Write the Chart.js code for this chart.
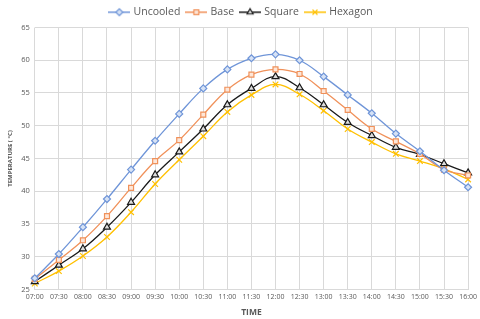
<!DOCTYPE html>
<html>
<head>
<meta charset="utf-8">
<script src="https://cdn.jsdelivr.net/npm/chart.js@4"></script>
<style>
  html, body { margin: 0; padding: 0; background: #fff; }
  #wrap { width: 480px; height: 319px; }
</style>
</head>
<body>
<div id="wrap"><canvas id="canvas-myChart"></canvas></div>
<script>
const timeLabels = ["07:00", "07:30", "08:00", "08:30", "09:00", "09:30", "10:00", "10:30", "11:00", "11:30",
  "12:00", "12:30", "13:00", "13:30", "14:00", "14:30", "15:00", "15:30", "16:00"];
const uncooled = [26.7, 30.4, 34.5, 38.8, 43.3, 47.7, 51.8, 55.7, 58.6, 60.3, 60.9, 60.0, 57.5, 54.7, 51.9, 48.8, 46.1, 43.2, 40.6];
const base = [26.6, 29.5, 32.5, 36.2, 40.5, 44.6, 47.8, 51.7, 55.5, 57.8, 58.6, 57.9, 55.3, 52.4, 49.5, 47.6, 45.7, 43.3, 42.4];
const square = [26.2, 28.7, 31.2, 34.5, 38.3, 42.5, 46.0, 49.5, 53.2, 55.7, 57.5, 55.8, 53.2, 50.5, 48.5, 46.7, 45.6, 44.2, 42.8];
const hexagon = [25.9, 27.8, 30.1, 33.0, 36.8, 41.1, 44.8, 48.4, 52.1, 54.7, 56.3, 54.8, 52.3, 49.5, 47.5, 45.7, 44.6, 43.4, 41.8];

const textColor = "#595959";
const fontFamily = "'Open Sans', 'Liberation Sans', sans-serif";

function makeSeries(label, data, color, fill, style, radius) {
  return {
    label: label,
    data: data,
    borderColor: color,
    backgroundColor: fill,
    pointBorderColor: color,
    pointBackgroundColor: fill,
    pointStyle: style,
    pointRadius: radius,
    pointBorderWidth: 1.2,
    borderWidth: 1.3,
    tension: 0.4,
  };
}

// legend icon: short line with the marker in the middle
function legendIcon(ds) {
  const c = document.createElement("canvas");
  c.width = 22;
  c.height = 10;
  const g = c.getContext("2d");
  g.strokeStyle = ds.borderColor;
  g.lineWidth = 1.5;
  g.beginPath();
  g.moveTo(0, 5);
  g.lineTo(22, 5);
  g.stroke();
  g.fillStyle = ds.pointBackgroundColor;
  g.lineWidth = 1.2;
  Chart.helpers.drawPoint(g, { pointStyle: ds.pointStyle, radius: 3.5, rotation: 0, borderWidth: 1.2 }, 11, 5);
  return c;
}

const ctx = document.getElementById("canvas-myChart").getContext("2d");

const myChart = new Chart(ctx, {
  type: "line",
  data: {
    labels: timeLabels,
    datasets: [
      makeSeries("Uncooled", uncooled, "#6F95D8", "#D6E2F5", "rectRot", 3.5),
      makeSeries("Base", base, "#F0915A", "#FDE6D8", "rect", 3.5),
      makeSeries("Square", square, "#1A1A1A", "#DDDDDD", "triangle", 4),
      makeSeries("Hexagon", hexagon, "#FFC000", "#FFC000", "crossRot", 4),
    ],
  },
  options: {
    responsive: true,
    maintainAspectRatio: false,
    animation: false,
    layout: { padding: { left: 3, right: 0, top: 0, bottom: -3 } },
    plugins: {
      legend: {
        position: "top",
        labels: {
          color: textColor,
          usePointStyle: true,
          pointStyleWidth: 18,
          boxHeight: 8,
          padding: 7,
          font: { family: fontFamily, size: 10.5 },
          generateLabels: function (chart) {
            return chart.data.datasets.map(function (ds, i) {
              return {
                text: ds.label,
                fontColor: textColor,
                pointStyle: legendIcon(ds),
                strokeStyle: ds.borderColor,
                fillStyle: ds.pointBackgroundColor,
                lineWidth: 0,
                hidden: false,
                datasetIndex: i,
              };
            });
          },
        },
      },
      tooltip: { enabled: false },
    },
    scales: {
      y: {
        min: 25,
        max: 65,
        ticks: { stepSize: 5, color: textColor, font: { family: fontFamily, size: 7.5 }, padding: 5 },
        grid: { color: "#D9D9D9", drawTicks: false },
        border: { display: false },
        title: {
          display: true,
          text: "TEMPERATURE ( °C)",
          color: textColor,
          font: { family: fontFamily, size: 6, weight: "bold" },
          padding: { bottom: 2 },
        },
      },
      x: {
        offset: false,
        ticks: { color: textColor, font: { family: fontFamily, size: 7 }, maxRotation: 0, autoSkip: false, padding: 3 },
        grid: { color: "#D9D9D9", drawTicks: false },
        border: { color: "#D9D9D9" },
        title: {
          display: true,
          text: "TIME",
          color: textColor,
          font: { family: fontFamily, size: 8.5, weight: "bold" },
          padding: { top: 4 },
        },
      },
    },
  },
});
</script>
</body>
</html>
